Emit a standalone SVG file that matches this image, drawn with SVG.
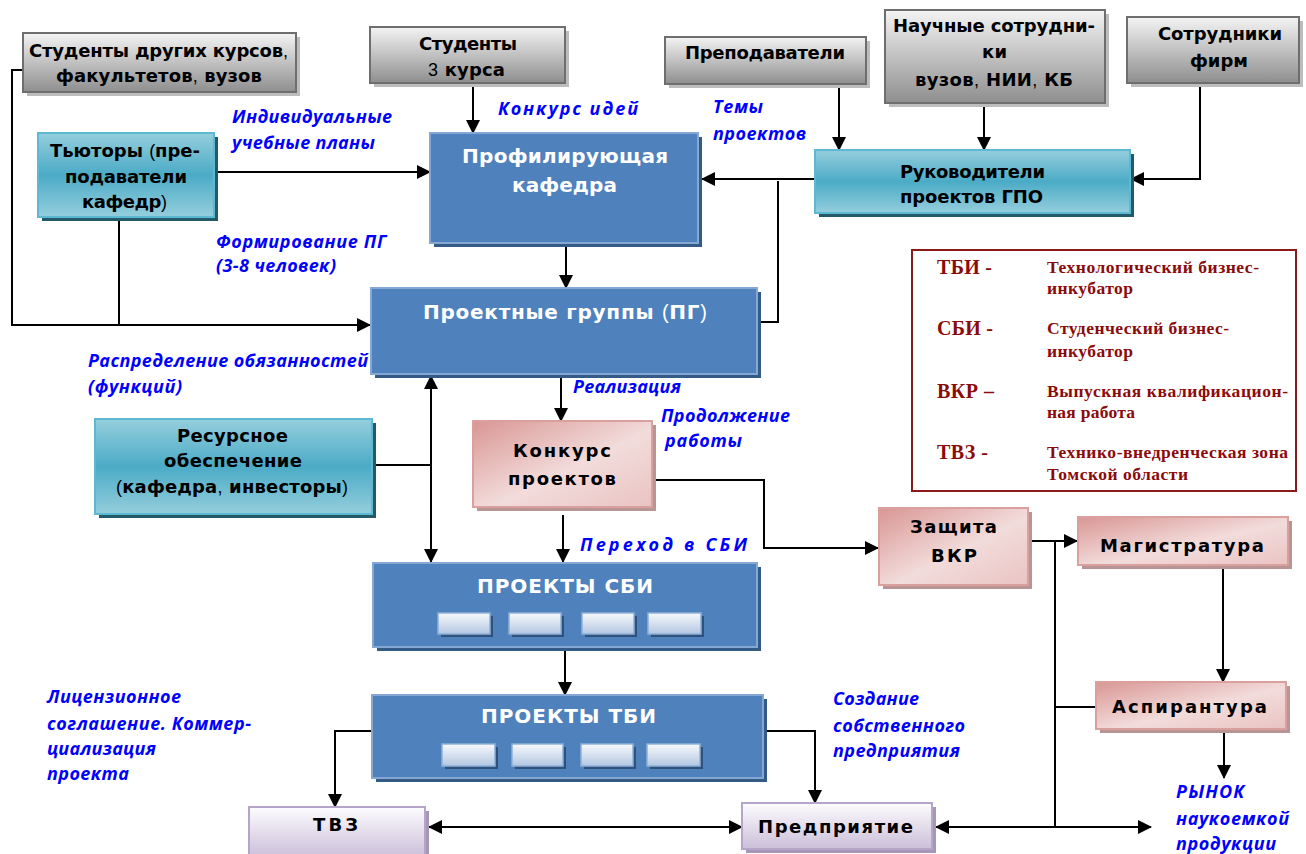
<svg xmlns="http://www.w3.org/2000/svg" width="1306" height="854" viewBox="0 0 1306 854">
<defs>
<linearGradient id="gGray" x1="0" y1="0" x2="0" y2="1"><stop offset="0" stop-color="#f4f4f4"/><stop offset="1" stop-color="#8e8e8e"/></linearGradient>
<linearGradient id="gTeal" x1="0" y1="0" x2="0" y2="1"><stop offset="0" stop-color="#95cedd"/><stop offset="0.5" stop-color="#4babc6"/><stop offset="1" stop-color="#95cedd"/></linearGradient>
<linearGradient id="gPink" x1="0" y1="0" x2="1" y2="1"><stop offset="0" stop-color="#d99694"/><stop offset="0.55" stop-color="#f2dcdb"/><stop offset="1" stop-color="#e9c3c2"/></linearGradient>
<linearGradient id="gPurple" x1="0" y1="0" x2="0" y2="1"><stop offset="0" stop-color="#fdfcfe"/><stop offset="1" stop-color="#cbbfd9"/></linearGradient>
<linearGradient id="gSmall" x1="0" y1="0" x2="0" y2="1"><stop offset="0" stop-color="#f7f9fc"/><stop offset="1" stop-color="#b3c7e1"/></linearGradient>
<marker id="ah" markerUnits="userSpaceOnUse" markerWidth="14" markerHeight="14" refX="13" refY="7" orient="auto-start-reverse"><path d="M0,0 L14,7 L0,14 z" fill="#000"/></marker>
</defs>
<style>
.gray{fill:url(#gGray);stroke:#6e6e6e;stroke-width:2}
.grayS{fill:#bdbdbd}
.teal{fill:url(#gTeal);stroke:#5cb9d2;stroke-width:2}
.tealS{fill:#225a69}
.blue{fill:#4f81bd;stroke:#84a8d3;stroke-width:2}
.blueS{fill:#345a86}
.pink{fill:url(#gPink);stroke:#d9a09e;stroke-width:2}
.pinkS{fill:#b99494}
.purple{fill:url(#gPurple);stroke:#b5a5c8;stroke-width:2}
.purpleS{fill:#a697b8}
.small{fill:url(#gSmall);stroke:#8eb0d8;stroke-width:1.5}
.smallS{fill:#2f527c}
.t{font-family:"DejaVu Sans","Liberation Sans",sans-serif;font-weight:bold;font-size:18px;fill:#000}
.w{font-family:"DejaVu Sans","Liberation Sans",sans-serif;font-weight:bold;font-size:20px;fill:#fff}
.n{font-weight:normal;font-family:"Liberation Sans",sans-serif}
.lbl{font-family:"Open Sans","Noto Sans",sans-serif;font-weight:bold;font-style:italic;font-size:18px;fill:#0000ff}
.lg{font-family:"Liberation Serif",serif;font-weight:bold;fill:#8b0a0a}
.c{fill:none;stroke:#000;stroke-width:2}
</style>

<g id="connectors">
<polyline class="c" points="23,70 12,70 12,325 370,325" marker-end="url(#ah)"/>
<line class="c" x1="119" y1="217" x2="119" y2="325"/>
<line class="c" x1="218" y1="172" x2="430" y2="172" marker-end="url(#ah)"/>
<line class="c" x1="473" y1="84" x2="473" y2="133" marker-end="url(#ah)"/>
<line class="c" x1="839" y1="85" x2="839" y2="150" marker-end="url(#ah)"/>
<line class="c" x1="984" y1="104" x2="984" y2="150" marker-end="url(#ah)"/>
<polyline class="c" points="1200,85 1200,179 1131,179" marker-end="url(#ah)"/>
<line class="c" x1="815" y1="179" x2="702" y2="179" marker-end="url(#ah)"/>
<polyline class="c" points="778,181 778,322 760,322"/>
<line class="c" x1="566" y1="244" x2="566" y2="288" marker-end="url(#ah)"/>
<line class="c" x1="561" y1="376" x2="561" y2="421" marker-end="url(#ah)"/>
<line class="c" x1="431" y1="376" x2="431" y2="562" marker-start="url(#ah)" marker-end="url(#ah)"/>
<line class="c" x1="374" y1="465" x2="431" y2="465"/>
<line class="c" x1="563" y1="515" x2="563" y2="562" marker-end="url(#ah)"/>
<polyline class="c" points="652,480 764,480 764,548 878,548" marker-end="url(#ah)"/>
<line class="c" x1="1029" y1="541" x2="1077" y2="541" marker-end="url(#ah)"/>
<line class="c" x1="1055" y1="541" x2="1055" y2="827"/>
<line class="c" x1="1055" y1="707" x2="1103" y2="707"/>
<line class="c" x1="936" y1="827" x2="1151" y2="827" marker-start="url(#ah)" marker-end="url(#ah)"/>
<line class="c" x1="1223" y1="569" x2="1223" y2="682" marker-end="url(#ah)"/>
<line class="c" x1="1224" y1="732" x2="1224" y2="778" marker-end="url(#ah)"/>
<line class="c" x1="565" y1="649" x2="565" y2="695" marker-end="url(#ah)"/>
<polyline class="c" points="384,731 335,731 335,807" marker-end="url(#ah)"/>
<polyline class="c" points="764,731 815,731 815,803" marker-end="url(#ah)"/>
<line class="c" x1="429" y1="827" x2="742" y2="827" marker-start="url(#ah)" marker-end="url(#ah)"/>
</g>

<g id="n-students-other">
<rect class="grayS" x="27" y="37" width="273" height="59"/>
<rect class="gray" x="23" y="33" width="273" height="59"/>
<text class="t" x="29" y="57" textLength="259">Студенты других курсов<tspan class="n">,</tspan></text>
<text class="t" x="56" y="82" textLength="206">факультетов<tspan class="n">,</tspan> вузов</text>
</g>

<g id="n-students-3">
<rect class="grayS" x="374" y="31" width="195" height="56"/>
<rect class="gray" x="370" y="27" width="195" height="56"/>
<text class="t" x="419" y="50" textLength="98">Студенты</text>
<text class="t" x="428" y="76" textLength="77"><tspan class="n">3</tspan> курса</text>
</g>

<g id="n-teachers">
<rect class="grayS" x="669" y="41" width="201" height="47"/>
<rect class="gray" x="665" y="37" width="201" height="47"/>
<text class="t" x="685" y="59" textLength="160">Преподаватели</text>
</g>

<g id="n-researchers">
<rect class="grayS" x="889" y="14" width="220" height="93"/>
<rect class="gray" x="885" y="10" width="220" height="93"/>
<text class="t" x="893" y="32" textLength="202">Научные сотрудни-</text>
<text class="t" x="982" y="58" textLength="25">ки</text>
<text class="t" x="915" y="86" textLength="158">вузов<tspan class="n">,</tspan> НИИ<tspan class="n">,</tspan> КБ</text>
</g>

<g id="n-firms">
<rect class="grayS" x="1131" y="21" width="172" height="66"/>
<rect class="gray" x="1127" y="17" width="172" height="66"/>
<text class="t" x="1158" y="40" textLength="124">Сотрудники</text>
<text class="t" x="1190" y="67" textLength="58">фирм</text>
</g>

<g id="n-tutors">
<rect class="tealS" x="42" y="137" width="176" height="84"/>
<rect class="teal" x="38" y="133" width="176" height="84"/>
<text class="t" x="50" y="157" textLength="150">Тьюторы <tspan class="n">(</tspan>пре-</text>
<text class="t" x="65" y="183" textLength="122">подаватели</text>
<text class="t" x="82" y="208" textLength="85">кафедр<tspan class="n">)</tspan></text>
</g>

<g id="n-dept">
<rect class="blueS" x="434" y="137" width="268" height="110"/>
<rect class="blue" x="430" y="133" width="268" height="110"/>
<text class="w" x="462" y="163" textLength="206">Профилирующая</text>
<text class="w" x="512" y="192" textLength="105">кафедра</text>
</g>

<g id="n-leaders">
<rect class="tealS" x="819" y="154" width="315" height="63"/>
<rect class="teal" x="815" y="150" width="315" height="63"/>
<text class="t" x="900" y="178" textLength="145">Руководители</text>
<text class="t" x="900" y="203" textLength="143">проектов ГПО</text>
</g>

<g id="n-groups">
<rect class="blueS" x="375" y="292" width="386" height="86"/>
<rect class="blue" x="371" y="288" width="386" height="86"/>
<text class="w" x="423" y="319" textLength="284">Проектные группы <tspan class="n">(</tspan>ПГ<tspan class="n">)</tspan></text>
</g>

<g id="n-resources">
<rect class="tealS" x="99" y="423" width="277" height="95"/>
<rect class="teal" x="95" y="419" width="277" height="95"/>
<text class="t" x="177" y="442" textLength="111">Ресурсное</text>
<text class="t" x="164" y="467" textLength="138">обеспечение</text>
<text class="t" x="116" y="493" textLength="232"><tspan class="n">(</tspan>кафедра<tspan class="n">,</tspan> инвесторы<tspan class="n">)</tspan></text>
</g>

<g id="n-contest">
<rect class="pinkS" x="477" y="425" width="179" height="86"/>
<rect class="pink" x="473" y="421" width="179" height="86"/>
<text class="t" x="513" y="457" textLength="98">Конкурс</text>
<text class="t" x="508" y="485" textLength="108">проектов</text>
</g>

<g id="n-sbi">
<rect class="blueS" x="377" y="567" width="384" height="84"/>
<rect class="blue" x="373" y="563" width="384" height="84"/>
<text class="w" x="477" y="593" textLength="176">ПРОЕКТЫ СБИ</text>
<rect class="smallS" x="441" y="616" width="52" height="21"/><rect class="small" x="438" y="613" width="52" height="21"/>
<rect class="smallS" x="512" y="616" width="52" height="21"/><rect class="small" x="509" y="613" width="52" height="21"/>
<rect class="smallS" x="585" y="616" width="52" height="21"/><rect class="small" x="582" y="613" width="52" height="21"/>
<rect class="smallS" x="651" y="616" width="53" height="21"/><rect class="small" x="648" y="613" width="53" height="21"/>
</g>

<g id="n-tbi">
<rect class="blueS" x="376" y="699" width="391" height="83"/>
<rect class="blue" x="372" y="695" width="391" height="83"/>
<text class="w" x="481" y="723" textLength="175">ПРОЕКТЫ ТБИ</text>
<rect class="smallS" x="445" y="747" width="53" height="22"/><rect class="small" x="442" y="744" width="53" height="22"/>
<rect class="smallS" x="515" y="747" width="51" height="22"/><rect class="small" x="512" y="744" width="51" height="22"/>
<rect class="smallS" x="584" y="747" width="52" height="22"/><rect class="small" x="581" y="744" width="52" height="22"/>
<rect class="smallS" x="650" y="747" width="53" height="22"/><rect class="small" x="647" y="744" width="53" height="22"/>
</g>

<g id="n-defense">
<rect class="pinkS" x="883" y="512" width="149" height="77"/>
<rect class="pink" x="879" y="508" width="149" height="77"/>
<text class="t" x="910" y="533" textLength="87">Защита</text>
<text class="t" x="931" y="562" textLength="46">ВКР</text>
</g>

<g id="n-master">
<rect class="pinkS" x="1082" y="521" width="210" height="48"/>
<rect class="pink" x="1078" y="517" width="210" height="48"/>
<text class="t" x="1100" y="552" textLength="164">Магистратура</text>
</g>

<g id="n-phd">
<rect class="pinkS" x="1100" y="686" width="190" height="47"/>
<rect class="pink" x="1096" y="682" width="190" height="47"/>
<text class="t" x="1112" y="713" textLength="155">Аспирантура</text>
</g>

<g id="n-tvz">
<rect class="purpleS" x="253" y="811" width="176" height="50"/>
<rect class="purple" x="249" y="807" width="176" height="50"/>
<text class="t" x="313" y="831" textLength="45">ТВЗ</text>
</g>

<g id="n-enterprise">
<rect class="purpleS" x="746" y="807" width="190" height="46"/>
<rect class="purple" x="742" y="803" width="190" height="46"/>
<text class="t" x="758" y="833" textLength="155">Предприятие</text>
</g>

<g id="legend">
<rect x="912" y="250" width="384" height="241" fill="#fff" stroke="#8b1a1a" stroke-width="2"/>
<text class="lg" font-size="20" x="937" y="274" textLength="55">ТБИ -</text>
<text class="lg" font-size="17.5" x="1047" y="273" textLength="212">Технологический бизнес-</text>
<text class="lg" font-size="17.5" x="1047" y="294" textLength="86">инкубатор</text>
<text class="lg" font-size="20" x="937" y="335" textLength="56">СБИ -</text>
<text class="lg" font-size="17.5" x="1047" y="334" textLength="182">Студенческий бизнес-</text>
<text class="lg" font-size="17.5" x="1047" y="357" textLength="86">инкубатор</text>
<text class="lg" font-size="20" x="937" y="398" textLength="57">ВКР –</text>
<text class="lg" font-size="17.5" x="1047" y="397" textLength="241">Выпускная квалификацион-</text>
<text class="lg" font-size="17.5" x="1047" y="418" textLength="88">ная работа</text>
<text class="lg" font-size="20" x="937" y="459" textLength="51">ТВЗ -</text>
<text class="lg" font-size="17.5" x="1047" y="458" textLength="241">Технико-внедренческая зона</text>
<text class="lg" font-size="17.5" x="1047" y="480" textLength="141">Томской области</text>
</g>

<g id="labels">
<text class="lbl" x="232" y="123" textLength="160">Индивидуальные</text>
<text class="lbl" x="232" y="149" textLength="143">учебные планы</text>
<text class="lbl" x="498" y="115" font-size="21" textLength="140">Конкурс идей</text>
<text class="lbl" x="713" y="113" textLength="50">Темы</text>
<text class="lbl" x="713" y="140" textLength="93">проектов</text>
<text class="lbl" x="216" y="248" textLength="170">Формирование ПГ</text>
<text class="lbl" x="216" y="272" textLength="120">(3-8 человек)</text>
<text class="lbl" x="88" y="367" textLength="280">Распределение обязанностей</text>
<text class="lbl" x="88" y="393" textLength="94">(функций)</text>
<text class="lbl" x="573" y="393" textLength="108">Реализация</text>
<text class="lbl" x="661" y="422" textLength="129">Продолжение</text>
<text class="lbl" x="665" y="447" textLength="77">работы</text>
<text class="lbl" x="580" y="551" font-size="19" textLength="167">Переход  в  СБИ</text>
<text class="lbl" x="47" y="703" textLength="134">Лицензионное</text>
<text class="lbl" x="47" y="730" textLength="204">соглашение. Коммер-</text>
<text class="lbl" x="47" y="755" textLength="109">циализация</text>
<text class="lbl" x="47" y="780" textLength="82">проекта</text>
<text class="lbl" x="833" y="705" textLength="86">Создание</text>
<text class="lbl" x="833" y="732" textLength="132">собственного</text>
<text class="lbl" x="833" y="757" textLength="127">предприятия</text>
<text class="lbl" x="1176" y="798" textLength="68">РЫНОК</text>
<text class="lbl" x="1176" y="825" textLength="113">наукоемкой</text>
<text class="lbl" x="1176" y="850" textLength="100">продукции</text>
</g>
</svg>
